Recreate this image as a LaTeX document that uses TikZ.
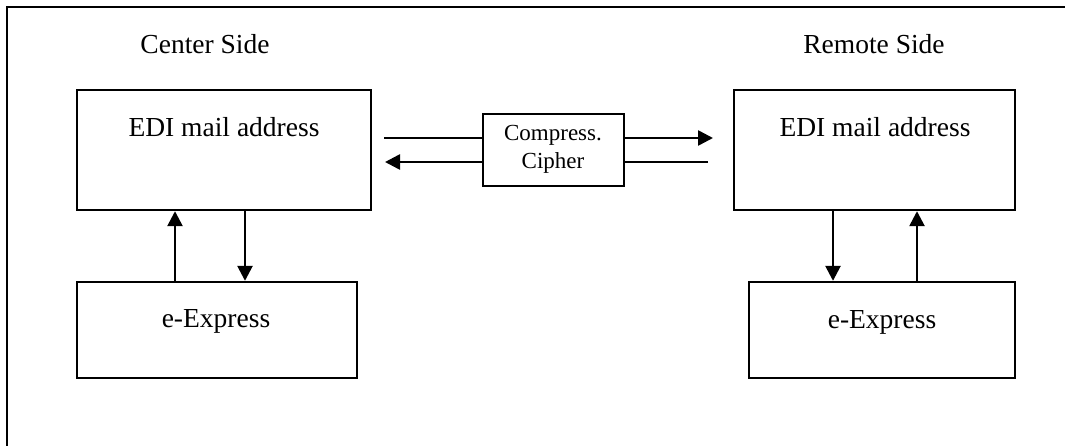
\documentclass[tikz,border=0pt]{standalone}
\usepackage{fontspec}
\setmainfont{Liberation Serif}
\usetikzlibrary{arrows.meta}
\begin{document}
\begin{tikzpicture}[x=1pt,y=-1pt,
  box/.style={draw,line width=2.4pt,rectangle,inner sep=0pt},
  txt/.style={anchor=base,inner sep=0pt,font=\fontsize{27.5}{33}\selectfont},
  stxt/.style={anchor=base,inner sep=0pt,font=\fontsize{23}{28}\selectfont},
  conn/.style={line width=2.6pt},
  arr/.style={line width=2.6pt,-{Triangle[length=15pt,width=15pt]}}]
\useasboundingbox (0,0) rectangle (1065,445);
\draw[line width=2.4pt] (7,446) -- (7,7) -- (1066,7);
% titles
\node[txt] (ctitle) at (205,53) {Center Side};
\node[txt] (rtitle) at (874,53) {Remote Side};
% boxes
\node[box,minimum width=294pt,minimum height=120pt] (cedi) at (224,150) {};
\node[txt] (cedit) at (224,136) {EDI mail address};
\node[box,minimum width=280pt,minimum height=96pt] (cexp) at (217,330) {};
\node[txt] (cexpt) at (216,327) {e-Express};
\node[box,minimum width=281pt,minimum height=120pt] (redi) at (874.5,150) {};
\node[txt] (redit) at (875,136) {EDI mail address};
\node[box,minimum width=266pt,minimum height=96pt] (rexp) at (882,330) {};
\node[txt] (rexpt) at (882,328) {e-Express};
\node[box,minimum width=141pt,minimum height=72pt] (cc) at (553.5,150) {};
\node[stxt] (cct1) at (553,140) {Compress.};
\node[stxt] (cct2) at (553,168) {Cipher};
% vertical arrows
\draw[arr] ([xshift=-42pt]cexp.north) -- ([xshift=-49pt]cedi.south);
\draw[arr] ([xshift=21pt]cedi.south) -- ([xshift=28pt]cexp.north);
\draw[arr] ([xshift=-41.5pt]redi.south) -- ([xshift=-49pt]rexp.north);
\draw[arr] ([xshift=35pt]rexp.north) -- ([xshift=42.5pt]redi.south);
% horizontal arrows
\coordinate (t1) at (384,138);
\coordinate (t2) at (713,138);
\coordinate (b1) at (708,162);
\coordinate (b2) at (385,162);
\draw[conn] (t1) -- (t1 -| cc.west);
\draw[arr] (t1 -| cc.east) -- (t2);
\draw[conn] (b1) -- (b1 -| cc.east);
\draw[arr] (b1 -| cc.west) -- (b2);
\end{tikzpicture}
\end{document}
